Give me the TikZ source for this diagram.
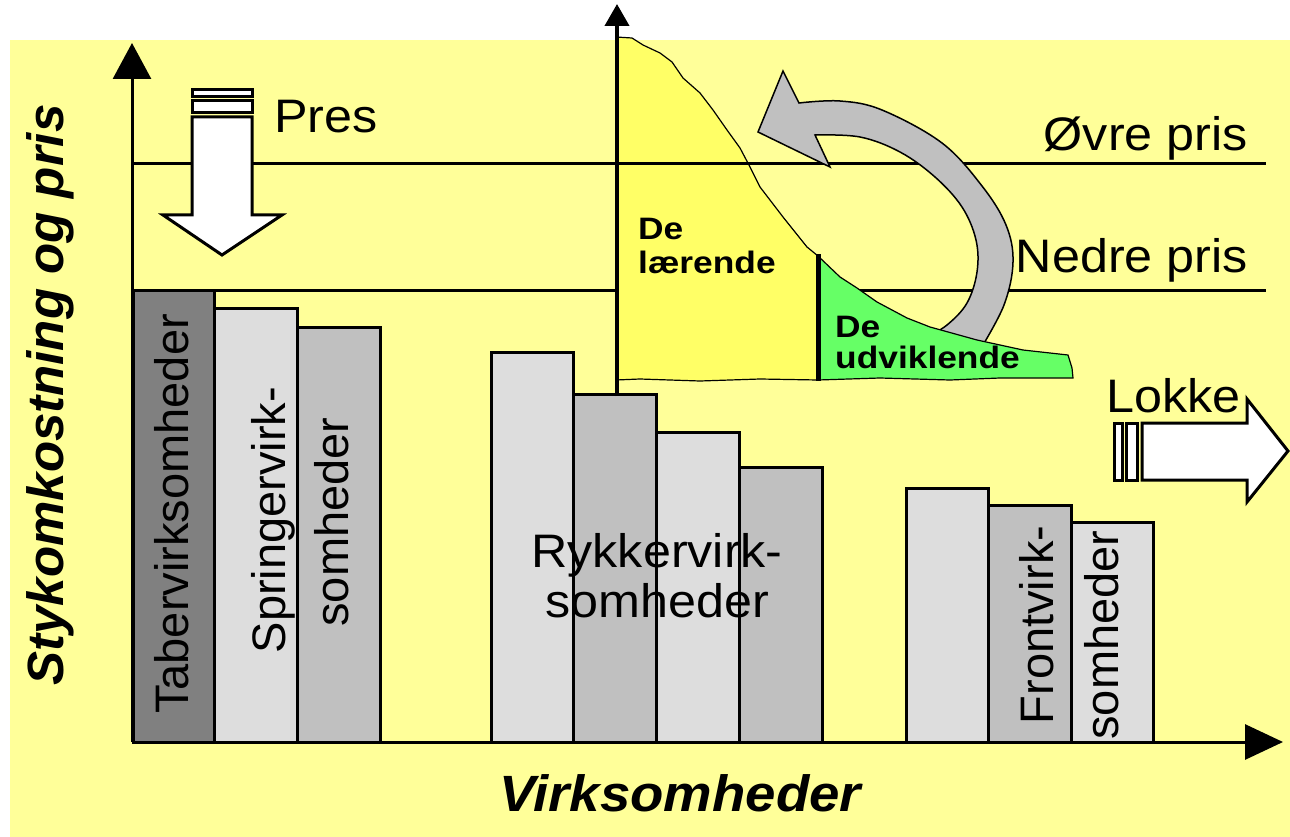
\documentclass[tikz,border=0pt]{standalone}
\usepackage{fontspec}
\setmainfont{Liberation Sans}
\newfontfamily\widefont{Liberation Sans}[FakeStretch=1.07]
\newfontfamily\grpfont{Liberation Sans}[FakeStretch=1.14]
\usetikzlibrary{arrows.meta}
\definecolor{bgyellow}{HTML}{FFFF99}
\definecolor{areayellow}{HTML}{FFFF66}
\definecolor{areagreen}{HTML}{66FF66}
\definecolor{bardark}{HTML}{808080}
\definecolor{barlight}{HTML}{DDDDDD}
\definecolor{barmid}{HTML}{C0C0C0}
\begin{document}
\begin{tikzpicture}[x=1pt,y=-1pt,
  pricelevel/.style={draw=black,line width=3pt},
  axis/.style={line width=3pt,-{Triangle[length=36pt,width=38pt]}},
  bigarrow/.style={draw=black,fill=white,line width=3pt,line join=miter},
  hlbl/.style={font=\widefont\fontsize{47}{50}\selectfont,inner sep=0pt},
  vlbl/.style={font=\fontsize{47}{56}\selectfont,inner sep=0pt,rotate=90,anchor=base},
  grp/.style={font=\grpfont\bfseries\fontsize{31}{34}\selectfont,inner sep=0pt,anchor=base west},
  axlbl/.style={font=\bfseries\itshape\fontsize{51}{60}\selectfont,inner sep=0pt}]
\useasboundingbox (0,0) rectangle (1290,837);
\fill[bgyellow] (10,40) rectangle (1290,837);

% lower price level
\draw[pricelevel] (132,290) -- (1266,290);

% cost bars: left, right, top, fill colour
\def\barlist{133/214/290/bardark, 214/297/308/barlight, 297/380/327/barmid,
  491/573/352/barlight, 573/656/394/barmid, 656/739/432/barlight, 739/822/467/barmid,
  906/988/488/barlight, 988/1071/505/barmid, 1071/1153/522/barlight}
\foreach \xa/\xb/\top/\c in \barlist {\fill[\c] (\xa,\top) rectangle (\xb,742);}

% bar captions (outlines are drawn over them)
\node[vlbl] (taber) at (188,514) {Tabervirksomheder};
\node[vlbl] (springerA) at (285,520) {Springervirk-};
\node[vlbl] (springerB) at (348,522) {somheder};
\node[hlbl,anchor=base] (rykkerA) at (657,567) {Rykkervirk-};
\node[hlbl,anchor=base] (rykkerB) at (657,617) {somheder};
\node[vlbl] (frontA) at (1053,625) {Frontvirk-};
\node[vlbl] (frontB) at (1118,635) {somheder};

\foreach \xa/\xb/\top/\c in \barlist {\draw[line width=3pt] (\xa,\top) rectangle (\xb,742);}

% learning area
\fill[areayellow,draw=black,line width=1.2pt] (616,37) -- (632,38) -- (643,45) -- (660,53) -- (672,62)
  -- (683,78) -- (700,93) -- (713,110) -- (727,130) -- (740,148) -- (750,167) -- (760,187)
  -- (783,217) -- (807,247) -- (818,256) -- (818,380) -- (760,379) -- (700,381) -- (640,379)
  -- (616,380) -- cycle;

% upper price level
\draw[pricelevel] (132,164) -- (1266,164);

% circular grey arrow
\fill[barmid,draw=black,line width=1.5pt]
  plot[smooth,tension=0.6] coordinates {(980,350) (1004,305) (1013,262) (1006,225) (982,186) (942,143) (882,110) (840,101) (799,103)}
  -- (783,71) -- (758,132) -- (830,167) -- (815,135)
  -- plot[smooth,tension=0.6] coordinates {(815,135) (860,137) (900,152) (935,177) (962,207) (976,240) (977,272) (967,303) (947,325) (925,338)}
  -- cycle;

% developing area
\fill[areagreen,draw=black,line width=1.2pt] (818,256) -- (840,277) -- (857,288) -- (877,302)
  -- (907,318) -- (930,327) -- (977,340) -- (1023,350) -- (1068,355) -- (1072,368) -- (1073,378)
  -- (1000,378) -- (950,380) -- (880,378) -- (818,380) -- cycle;
\draw[line width=5pt] (818,254) -- (818,381);
\draw[line width=4pt,-{Triangle[length=22pt,width=24pt]}] (617,396) -- (617,4);

% axes
\coordinate (origin) at (132,742);
\coordinate (ytop) at (132,43);
\coordinate (xend) at (1283,742);
\draw[axis] (origin) -- (ytop);
\draw[axis,-{Triangle[length=38pt,width=35pt]}] (origin) -- (xend);

% price pressure arrow
\draw[bigarrow] (192,90) rectangle (252,97);
\draw[bigarrow] (192,101) rectangle (252,113);
\draw[bigarrow] (192,117) -- (252,117) -- (252,215) -- (282,215) -- (222,255) -- (163,215) -- (192,215) -- cycle;

% lure arrow
\draw[bigarrow] (1114,423) rectangle (1122,480);
\draw[bigarrow] (1126,423) rectangle (1137,480);
\draw[bigarrow] (1142,423) -- (1247,423) -- (1247,399) -- (1288,451) -- (1247,502) -- (1247,480) -- (1142,480) -- cycle;

% labels
\node[hlbl,anchor=base west] (pres) at (274,133) {Pres};
\node[hlbl,anchor=base east] (ovre) at (1248,151) {Øvre pris};
\node[hlbl,anchor=base east] (nedre) at (1248,272) {Nedre pris};
\node[hlbl,anchor=base west] (lokke) at (1106,412) {Lokke};
\node[grp] (laerA) at (638,239) {De};
\node[grp] (laerB) at (638,273) {lærende};
\node[grp] (udvA) at (835,337) {De};
\node[grp] (udvB) at (835,368) {udviklende};
\node[axlbl,rotate=90] (ylab) at (50,395) {Stykomkostning og pris};
\node[axlbl,font=\widefont\bfseries\itshape\fontsize{51}{60}\selectfont] (xlab) at (680,793) {Virksomheder};
\end{tikzpicture}
\end{document}
